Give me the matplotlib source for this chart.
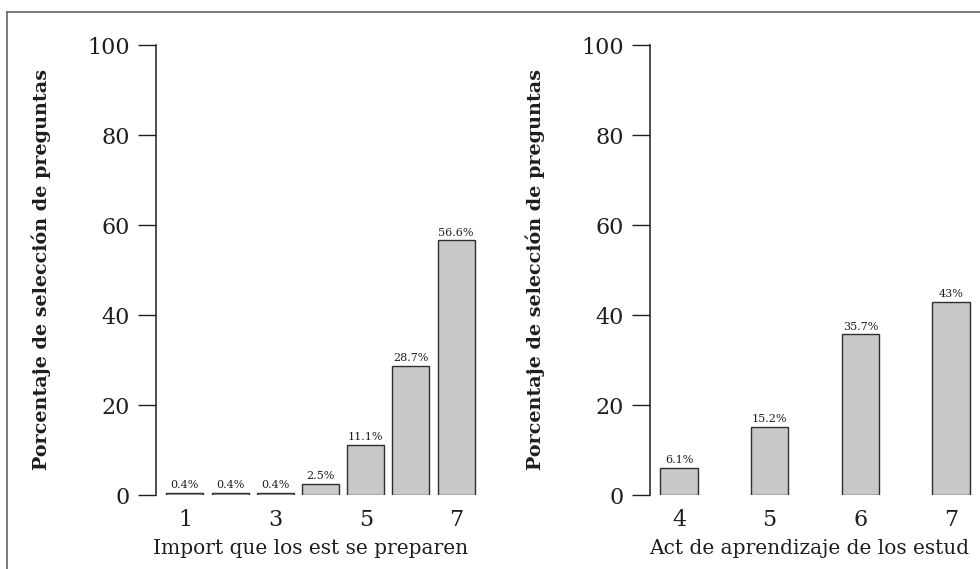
import matplotlib
matplotlib.use("Agg")
import matplotlib.pyplot as plt
from matplotlib.lines import Line2D

# Left panel: importance that students prepare
left_levels = [1, 2, 3, 4, 5, 6, 7]
left_values = [0.4, 0.4, 0.4, 2.5, 11.1, 28.7, 56.6]
left_labels = ["0.4%", "0.4%", "0.4%", "2.5%", "11.1%", "28.7%", "56.6%"]
left_ticks = [1, 3, 5, 7]
left_xlabel = "Import que los est se preparen"

# Right panel: students' learning activity
right_levels = [4, 5, 6, 7]
right_values = [6.1, 15.2, 35.7, 43.0]
right_labels = ["6.1%", "15.2%", "35.7%", "43%"]
right_ticks = [4, 5, 6, 7]
right_xlabel = "Act de aprendizaje de los estud"

ylabel = "Porcentaje de selección de preguntas"
yticks = [0, 20, 40, 60, 80, 100]

W, H = 980, 569
fig = plt.figure(figsize=(W / 100, H / 100), dpi=100)
fig.patch.set_facecolor("white")

SERIF = "DejaVu Serif"
INK = "#1e1e1e"
BAR_FILL = "#c8c8c8"
BAR_EDGE = "#2e2e2e"


def panel(rect, levels, values, labels, ticks, xlabel, xlim, width, xlab_x):
    ax = fig.add_axes(rect)
    ax.bar(levels, values, width=width, color=BAR_FILL, edgecolor=BAR_EDGE,
           linewidth=1.0, zorder=2)
    for x, v, t in zip(levels, values, labels):
        ax.annotate(t, (x, v), xytext=(0, 2), textcoords="offset points",
                    ha="center", va="bottom", fontsize=8, family=SERIF,
                    color=INK)
    ax.set_xlim(*xlim)
    ax.set_ylim(0, 100)
    for s in ("top", "right", "bottom"):
        ax.spines[s].set_visible(False)
    ax.spines["left"].set_color(INK)
    ax.spines["left"].set_linewidth(1.1)
    ax.spines["left"].set_bounds(0, 100)
    ax.set_yticks(yticks)
    ax.set_yticklabels([str(v) for v in yticks], family=SERIF, fontsize=16,
                       color=INK)
    ax.tick_params(axis="y", direction="out", length=13, width=1.0,
                   color=INK, pad=6)
    ax.set_xticks(ticks)
    ax.set_xticklabels([str(v) for v in ticks], family=SERIF, fontsize=16,
                       color=INK)
    ax.tick_params(axis="x", length=0, pad=10)
    ax.set_xlabel(xlabel, family=SERIF, fontsize=14.5, color=INK)
    ax.xaxis.set_label_coords(xlab_x, -0.098)
    ax.set_ylabel(ylabel, family=SERIF, fontsize=13.8, fontweight="bold",
                  color=INK, labelpad=26)
    return ax


bottom = 1 - 495 / H
height = 450 / H

ax1 = panel([156 / W, bottom, 329 / W, height], left_levels, left_values,
            left_labels, left_ticks, left_xlabel, (0.36, 7.64), 0.82, 0.471)
ax2 = panel([650 / W, bottom, 330 / W, height], right_levels, right_values,
            right_labels, right_ticks, right_xlabel, (3.68, 7.32), 0.41, 0.482)

# Outer frame: top and left rules
fig.add_artist(Line2D([7 / W, 1], [1 - 11.5 / H, 1 - 11.5 / H],
                      transform=fig.transFigure, color="#6e6e6e", lw=1.3))
fig.add_artist(Line2D([7 / W, 7 / W], [0, 1 - 11.5 / H],
                      transform=fig.transFigure, color="#6e6e6e", lw=1.3))

fig.savefig("out.png", dpi=100, facecolor="white")
